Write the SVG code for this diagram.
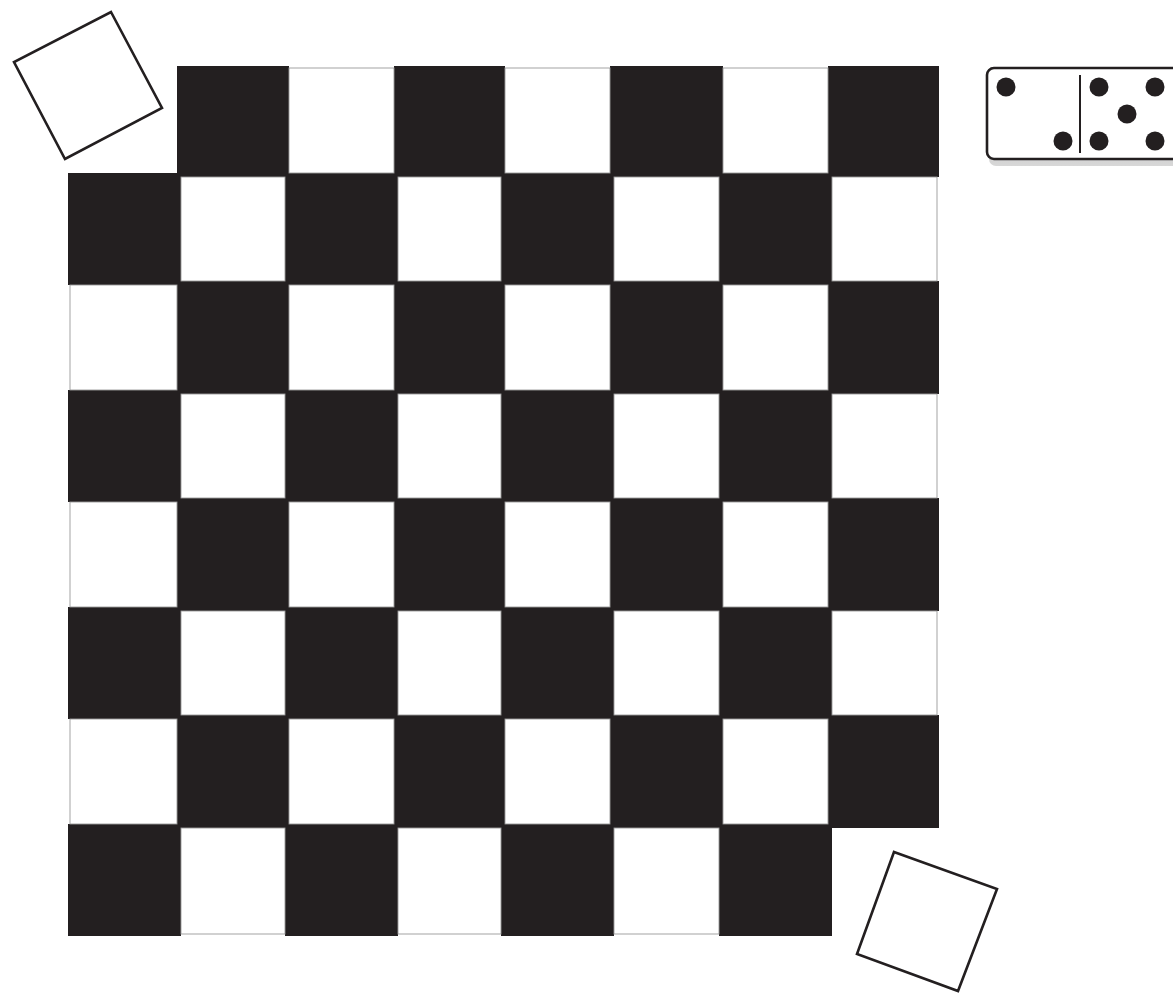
<svg xmlns="http://www.w3.org/2000/svg" width="1173" height="993" viewBox="0 0 1173 993">
<style>
.b{fill:#231f20}
.w{fill:#fff;stroke:#9a9a9a;stroke-width:0.9}
.tile{fill:#fff;stroke:#231f20;stroke-width:2.6;stroke-linejoin:miter}
.pip{fill:#231f20}
</style>
<defs>
<linearGradient id="sh" x1="0" y1="0" x2="0" y2="1">
<stop offset="0" stop-color="#9a9a9a"/>
<stop offset="1" stop-color="#d8d8d8"/>
</linearGradient>
</defs>
<rect width="1173" height="993" fill="#fff"/>
<g id="board">
<g id="black-squares">
<rect class="b" x="177" y="66" width="112" height="111"/>
<rect class="b" x="394" y="66" width="111" height="111"/>
<rect class="b" x="610" y="66" width="113" height="111"/>
<rect class="b" x="828" y="66" width="111" height="111"/>
<rect class="b" x="68" y="173" width="113" height="112"/>
<rect class="b" x="285" y="173" width="113" height="112"/>
<rect class="b" x="501" y="173" width="113" height="112"/>
<rect class="b" x="719" y="173" width="113" height="112"/>
<rect class="b" x="177" y="281" width="112" height="113"/>
<rect class="b" x="394" y="281" width="111" height="113"/>
<rect class="b" x="610" y="281" width="113" height="113"/>
<rect class="b" x="828" y="281" width="111" height="113"/>
<rect class="b" x="68" y="390" width="113" height="112"/>
<rect class="b" x="285" y="390" width="113" height="112"/>
<rect class="b" x="501" y="390" width="113" height="112"/>
<rect class="b" x="719" y="390" width="113" height="112"/>
<rect class="b" x="177" y="498" width="112" height="113"/>
<rect class="b" x="394" y="498" width="111" height="113"/>
<rect class="b" x="610" y="498" width="113" height="113"/>
<rect class="b" x="828" y="498" width="111" height="113"/>
<rect class="b" x="68" y="607" width="113" height="112"/>
<rect class="b" x="285" y="607" width="113" height="112"/>
<rect class="b" x="501" y="607" width="113" height="112"/>
<rect class="b" x="719" y="607" width="113" height="112"/>
<rect class="b" x="177" y="715" width="112" height="113"/>
<rect class="b" x="394" y="715" width="111" height="113"/>
<rect class="b" x="610" y="715" width="113" height="113"/>
<rect class="b" x="828" y="715" width="111" height="113"/>
<rect class="b" x="68" y="824" width="113" height="112"/>
<rect class="b" x="285" y="824" width="113" height="112"/>
<rect class="b" x="501" y="824" width="113" height="112"/>
<rect class="b" x="719" y="824" width="113" height="112"/>
</g>
<g id="white-squares">
<rect class="w" x="289" y="68" width="105" height="105"/>
<rect class="w" x="505" y="68" width="105" height="105"/>
<rect class="w" x="723" y="68" width="105" height="105"/>
<rect class="w" x="181" y="177" width="104" height="104"/>
<rect class="w" x="398" y="177" width="103" height="104"/>
<rect class="w" x="614" y="177" width="105" height="104"/>
<rect class="w" x="832" y="177" width="105" height="104"/>
<rect class="w" x="70" y="285" width="107" height="105"/>
<rect class="w" x="289" y="285" width="105" height="105"/>
<rect class="w" x="505" y="285" width="105" height="105"/>
<rect class="w" x="723" y="285" width="105" height="105"/>
<rect class="w" x="181" y="394" width="104" height="104"/>
<rect class="w" x="398" y="394" width="103" height="104"/>
<rect class="w" x="614" y="394" width="105" height="104"/>
<rect class="w" x="832" y="394" width="105" height="104"/>
<rect class="w" x="70" y="502" width="107" height="105"/>
<rect class="w" x="289" y="502" width="105" height="105"/>
<rect class="w" x="505" y="502" width="105" height="105"/>
<rect class="w" x="723" y="502" width="105" height="105"/>
<rect class="w" x="181" y="611" width="104" height="104"/>
<rect class="w" x="398" y="611" width="103" height="104"/>
<rect class="w" x="614" y="611" width="105" height="104"/>
<rect class="w" x="832" y="611" width="105" height="104"/>
<rect class="w" x="70" y="719" width="107" height="105"/>
<rect class="w" x="289" y="719" width="105" height="105"/>
<rect class="w" x="505" y="719" width="105" height="105"/>
<rect class="w" x="723" y="719" width="105" height="105"/>
<rect class="w" x="181" y="828" width="104" height="106"/>
<rect class="w" x="398" y="828" width="103" height="106"/>
<rect class="w" x="614" y="828" width="105" height="106"/>
</g>
</g>
<g id="removed-top-left">
<polygon class="tile" points="111,12 162,108 65,159 14,62"/>
</g>
<g id="removed-bottom-right">
<polygon class="tile" points="894,852 997,889 958,991 857,954"/>
</g>
<g id="domino">
<rect x="989" y="74" width="200" height="92" rx="7" fill="url(#sh)"/>
<rect x="987" y="68" width="200" height="91" rx="7" fill="#fff" stroke="#231f20" stroke-width="2.6"/>
<line x1="1080" y1="75" x2="1080" y2="153" stroke="#231f20" stroke-width="2"/>
<circle class="pip" cx="1006" cy="87" r="9.5"/>
<circle class="pip" cx="1063" cy="141" r="9.5"/>
<circle class="pip" cx="1099" cy="87" r="9.5"/>
<circle class="pip" cx="1155" cy="87" r="9.5"/>
<circle class="pip" cx="1127" cy="114" r="9.5"/>
<circle class="pip" cx="1099" cy="141" r="9.5"/>
<circle class="pip" cx="1155" cy="141" r="9.5"/>
</g>
</svg>
